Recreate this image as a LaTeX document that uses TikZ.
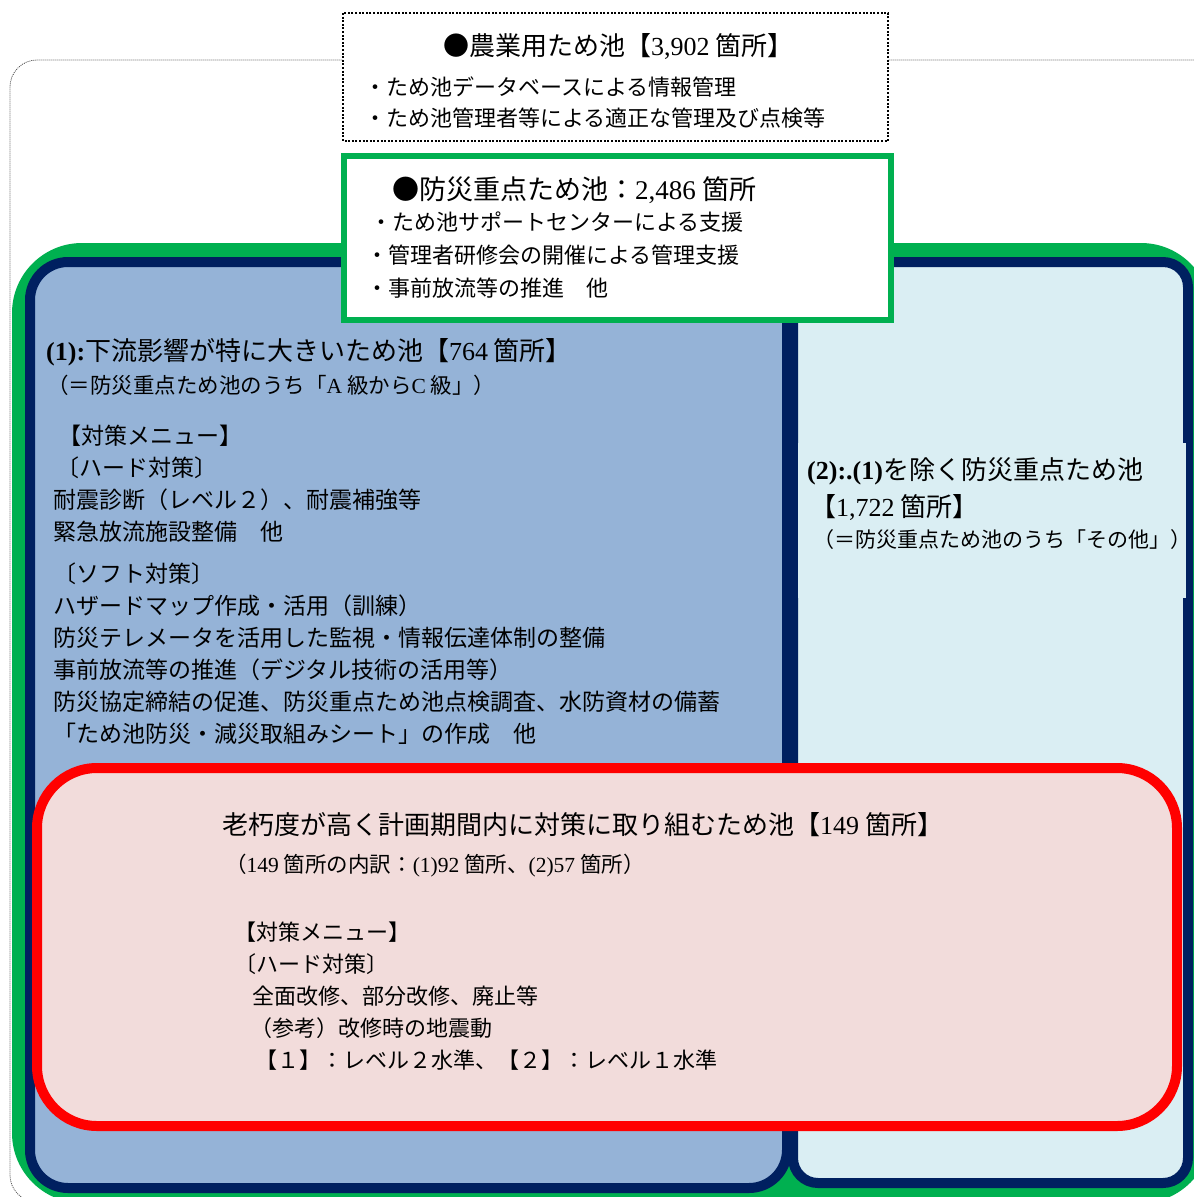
\documentclass[tikz,border=0pt]{standalone}
\usepackage{fontspec}
\setmainfont{Noto Sans CJK JP}
\newfontfamily\numf{Liberation Serif}
\definecolor{ggreen}{HTML}{00B050}
\definecolor{navy}{HTML}{002060}
\definecolor{bluefill}{HTML}{95B3D7}
\definecolor{lightfill}{HTML}{DAEEF3}
\definecolor{redline}{HTML}{FF0000}
\definecolor{pinkfill}{HTML}{F2DCDB}
\begin{document}
\begin{tikzpicture}[x=1pt,y=-1pt,
  tl/.style={anchor=west, inner sep=0pt, text=black},
  hd/.style={tl, font=\fontsize{26}{30}\selectfont},
  bd/.style={tl, font=\fontsize{22}{30}\selectfont},
  bt/.style={tl, font=\fontsize{23}{30}\selectfont},
  sb/.style={tl, font=\fontsize{21.5}{30}\selectfont},
  outerdot/.style={draw=black!70, line width=0.8pt, dash pattern=on 1pt off 1pt},
  boxdot/.style={draw=black, line width=2.2pt, dash pattern=on 2pt off 1.6pt, fill=white},
  navybox/.style={draw=navy, line width=10pt},
]
\useasboundingbox (0,0) rectangle (1194,1197);
\clip (0,0) rectangle (1194,1197);
\fill[white] (0,0) rectangle (1194,1197);
% outer dotted frame
\draw[outerdot, rounded corners=27pt] (1300,1202) -- (10,1202) -- (10,60) -- (1230,60) -- (1230,1300);
% green base
\fill[ggreen, rounded corners=70pt] (12,243) rectangle (1211,1203);
% box (1) and box (2)
\draw[navybox, fill=bluefill, rounded corners=38pt] (30,262) rectangle (787,1188);
\draw[navybox, fill=lightfill, rounded corners=25pt] (793,262) rectangle (1188,1183);
\fill[lightfill] (798,443) rectangle (1186,598);
% red box
\draw[draw=redline, line width=10pt, fill=pinkfill, rounded corners=60pt] (37,768) rectangle (1177,1126);
% green box
\draw[draw=ggreen, line width=6pt, fill=white] (344,156) rectangle (891,320);
% top dotted box
\draw[boxdot] (343,13) rectangle (888,141);

% texts: top box
\node[hd] (t1) at (443,46) {●農業用ため池【{\numf 3,902} 箇所】};
\node[bd] (t2) at (364,87) {・ため池データベースによる情報管理};
\node[bd] (t3) at (364,118) {・ため池管理者等による適正な管理及び点検等};
% green box
\node[tl, font=\fontsize{27}{30}\selectfont] (g1) at (392,190) {●防災重点ため池：{\numf 2,486} 箇所};
\node[bd] (g2) at (370,222) {・ため池サポートセンターによる支援};
\node[bd] (g3) at (366,255) {・管理者研修会の開催による管理支援};
\node[bd] (g4) at (366,288) {・事前放流等の推進　他};
% box (1)
\node[hd] (a1) at (46,352) {{\numf\bfseries (1):}下流影響が特に大きいため池【{\numf 764} 箇所】};
\node[sb] (a2) at (47,385) {（＝防災重点ため池のうち「{\numf A} 級から{\numf C} 級」）};
\node[bt] (a3) at (58,436) {【対策メニュー】};
\node[bt] (a4) at (56,468) {〔ハード対策〕};
\node[bt] (a5) at (53,500) {耐震診断（レベル２）、耐震補強等};
\node[bt] (a6) at (53,532) {緊急放流施設整備　他};
\node[bt] (a7) at (53,574) {〔ソフト対策〕};
\node[bt] (a8) at (53,606) {ハザードマップ作成・活用（訓練）};
\node[bt] (a9) at (53,638) {防災テレメータを活用した監視・情報伝達体制の整備};
\node[bt] (a10) at (53,670) {事前放流等の推進（デジタル技術の活用等）};
\node[bt] (a11) at (53,702) {防災協定締結の促進、防災重点ため池点検調査、水防資材の備蓄};
\node[bt] (a12) at (53,734) {「ため池防災・減災取組みシート」の作成　他};
% box (2)
\node[hd] (b1) at (807,471) {{\numf\bfseries (2):.(1)}を除く防災重点ため池};
\node[hd] (b2) at (810,507) {【{\numf 1,722} 箇所】};
\node[tl, font=\fontsize{21}{30}\selectfont] (b3) at (813,540) {（＝防災重点ため池のうち「その他」）};
% red box
\node[hd] (r1) at (222,825) {老朽度が高く計画期間内に対策に取り組むため池【{\numf 149} 箇所】};
\node[sb] (r2) at (225,866) {（{\numf 149} 箇所の内訳：{\numf (1)92} 箇所、{\numf (2)57} 箇所）};
\node[bd] (r3) at (234,932) {【対策メニュー】};
\node[bd] (r4) at (234,964) {〔ハード対策〕};
\node[bd] (r5) at (252,996) {全面改修、部分改修、廃止等};
\node[bd] (r6) at (250,1028) {（参考）改修時の地震動};
\node[bd] (r7) at (255,1060) {【１】：レベル２水準、【２】：レベル１水準};
\end{tikzpicture}
\end{document}
